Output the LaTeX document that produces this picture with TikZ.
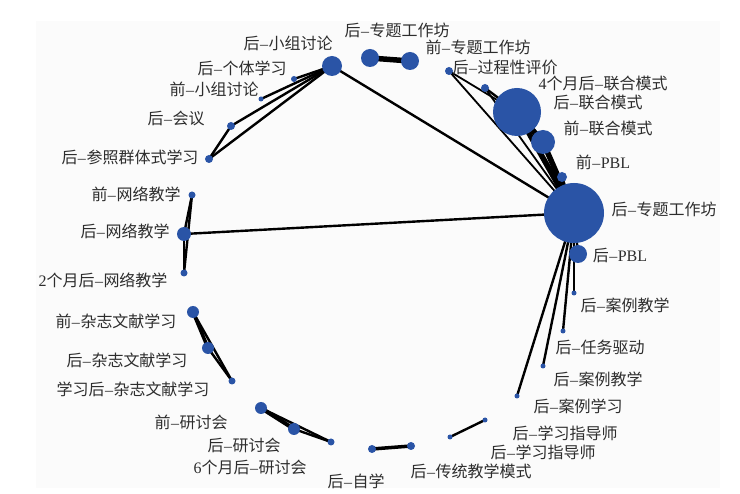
\documentclass[tikz,border=0pt]{standalone}
\usepackage{fontspec}
\setmainfont{Liberation Serif}
\newfontfamily\cjk{Noto Sans CJK SC}
\usetikzlibrary{backgrounds}
\newcommand\D{{\rmfamily\kern0.5pt–\kern0.5pt}}
\newcommand\R[1]{{\rmfamily #1}}
\definecolor{nodeblue}{RGB}{42,84,166}
\definecolor{bggrey}{RGB}{251,251,251}
\definecolor{txtgrey}{RGB}{45,45,45}
\tikzset{
  dot/.style={circle, fill=nodeblue, draw=none, inner sep=0pt, minimum size=#1},
  lbl/.style={font=\cjk\fontsize{16}{18}\selectfont, text=txtgrey, inner sep=0pt},
  edge/.style={draw=black, line width=2.4pt},
  thinedge/.style={draw=black, line width=1.8pt},
  thickedge/.style={draw=black, line width=5.5pt},
}
\begin{document}
\begin{tikzpicture}[x=1pt, y=-1pt]
\useasboundingbox (0,0) rectangle (740,494);
% nodes
\node[dot=20pt] (xzt) at (332,66) {};
\node[dot=6pt] (gtxx) at (294,79) {};
\node[dot=5pt] (qxzt) at (261,99) {};
\node[dot=8pt] (hy) at (231,126) {};
\node[dot=8pt] (cz) at (209,159) {};
\node[dot=18pt] (ztA) at (370,58) {};
\node[dot=18pt] (ztB) at (410,61) {};
\node[dot=8pt] (gcx) at (449,71) {};
\node[dot=8pt] (lh4) at (485,88) {};
\node[dot=48pt] (lh) at (517,112) {};
\node[dot=24pt] (qlh) at (543,142) {};
\node[dot=10pt] (qpbl) at (562,177) {};
\node[dot=60pt] (zt) at (574,213) {};
\node[dot=18pt] (pbl) at (578,254) {};
\node[dot=5pt] (al1) at (574,293) {};
\node[dot=5pt] (rw) at (563,331) {};
\node[dot=5pt] (al2) at (543,366) {};
\node[dot=5pt] (alxx) at (517,396) {};
\node[dot=5pt] (zd1) at (485,420) {};
\node[dot=5pt] (zd2) at (450,437) {};
\node[dot=8pt] (ct) at (411,446) {};
\node[dot=8pt] (zx) at (372,449) {};
\node[dot=7pt] (yt6) at (331,442) {};
\node[dot=12pt] (yt) at (294,429) {};
\node[dot=12pt] (qyt) at (261,408) {};
\node[dot=7pt] (zzx) at (232,381) {};
\node[dot=12pt] (zz) at (208,348) {};
\node[dot=12pt] (qzz) at (193,312) {};
\node[dot=7pt] (wl2) at (184,273) {};
\node[dot=14pt] (wl) at (184,234) {};
\node[dot=7pt] (qwl) at (192,195) {};
% labels
\node[lbl] (L1) at (288,43) {后\D 小组讨论};
\node[lbl] (L2) at (242,68) {后\D 个体学习};
\node[lbl] (L3) at (214,89) {前\D 小组讨论};
\node[lbl] (L4) at (176,118) {后\D 会议};
\node[lbl] (L5) at (130,157) {后\D 参照群体式学习};
\node[lbl] (L6) at (397,30) {后\D 专题工作坊};
\node[lbl] (L7) at (478,47) {前\D 专题工作坊};
\node[lbl] (L8) at (505,67) {后\D 过程性评价};
\node[lbl] (L9) at (603,83) {\R{4}个月后\D 联合模式};
\node[lbl] (L10) at (598,102) {后\D 联合模式};
\node[lbl] (L11) at (608,128) {前\D 联合模式};
\node[lbl] (L12) at (603,162) {前\D\R{PBL}};
\node[lbl] (L13) at (664,209) {后\D 专题工作坊};
\node[lbl] (L14) at (620,256) {后\D\R{PBL}};
\node[lbl] (L15) at (625,305) {后\D 案例教学};
\node[lbl] (L16) at (600,347) {后\D 任务驱动};
\node[lbl] (L17) at (598,379) {后\D 案例教学};
\node[lbl] (L18) at (578,406) {后\D 案例学习};
\node[lbl] (L19) at (565,433) {后\D 学习指导师};
\node[lbl] (L20) at (543,452) {后\D 学习指导师};
\node[lbl] (L21) at (471,471) {后\D 传统教学模式};
\node[lbl] (L22) at (356,481) {后\D 自学};
\node[lbl] (L23) at (250,467) {\R{6}个月后\D 研讨会};
\node[lbl] (L24) at (244,445) {后\D 研讨会};
\node[lbl] (L25) at (191,422) {前\D 研讨会};
\node[lbl] (L26) at (133,389) {学习后\D 杂志文献学习};
\node[lbl] (L27) at (127,360) {后\D 杂志文献学习};
\node[lbl] (L28) at (116,321) {前\D 杂志文献学习};
\node[lbl] (L29) at (103,280) {\R{2}个月后\D 网络教学};
\node[lbl] (L30) at (125,231) {后\D 网络教学};
\node[lbl] (L31) at (136,194) {前\D 网络教学};
\begin{scope}[on background layer]
\fill[bggrey] (36,21) rectangle (720,488);
% edges
\draw[edge] (xzt.center) -- (gtxx.center);
\draw[edge] (xzt.center) -- (qxzt.center);
\draw[edge] (xzt.center) -- (hy.center);
\draw[edge] (xzt.center) -- (cz.center);
\draw[edge] (hy.center) -- (cz.center);
\draw[edge] (xzt.center) -- (zt.center);
\draw[thickedge] (ztA.center) -- (ztB.center);
\draw[thinedge] (gcx.center) -- (lh.center);
\draw[thinedge] (gcx.center) -- (zt.center);
\draw[edge] (lh4.center) -- (lh.center);
\draw[thinedge] (lh4.center) -- (zt.center);
\draw[thickedge] (lh.center) -- (qlh.center);
\draw[thickedge] (lh.center) -- (zt.center);
\draw[thickedge] (qlh.center) -- (zt.center);
\draw[edge] (qpbl.center) -- (zt.center);
\draw[edge] (zt.center) -- (pbl.center);
\draw[edge] (zt.center) -- (al1.center);
\draw[edge] (zt.center) -- (rw.center);
\draw[edge] (zt.center) -- (al2.center);
\draw[edge] (zt.center) -- (alxx.center);
\draw[edge] (zd1.center) -- (zd2.center);
\draw[line width=3.5pt] (ct.center) -- (zx.center);
\draw[line width=4pt] (qyt.center) -- (yt.center);
\draw[edge] (qyt.center) -- (yt6.center);
\draw[edge] (yt.center) -- (yt6.center);
\draw[line width=3.5pt] (qzz.center) -- (zz.center);
\draw[edge] (qzz.center) -- (zzx.center);
\draw[edge] (zz.center) -- (zzx.center);
\draw[edge] (qwl.center) -- (wl.center);
\draw[edge] (qwl.center) -- (wl2.center);
\draw[edge] (wl.center) -- (wl2.center);
\draw[edge] (wl.center) -- (zt.center);
\end{scope}
\end{tikzpicture}
\end{document}
